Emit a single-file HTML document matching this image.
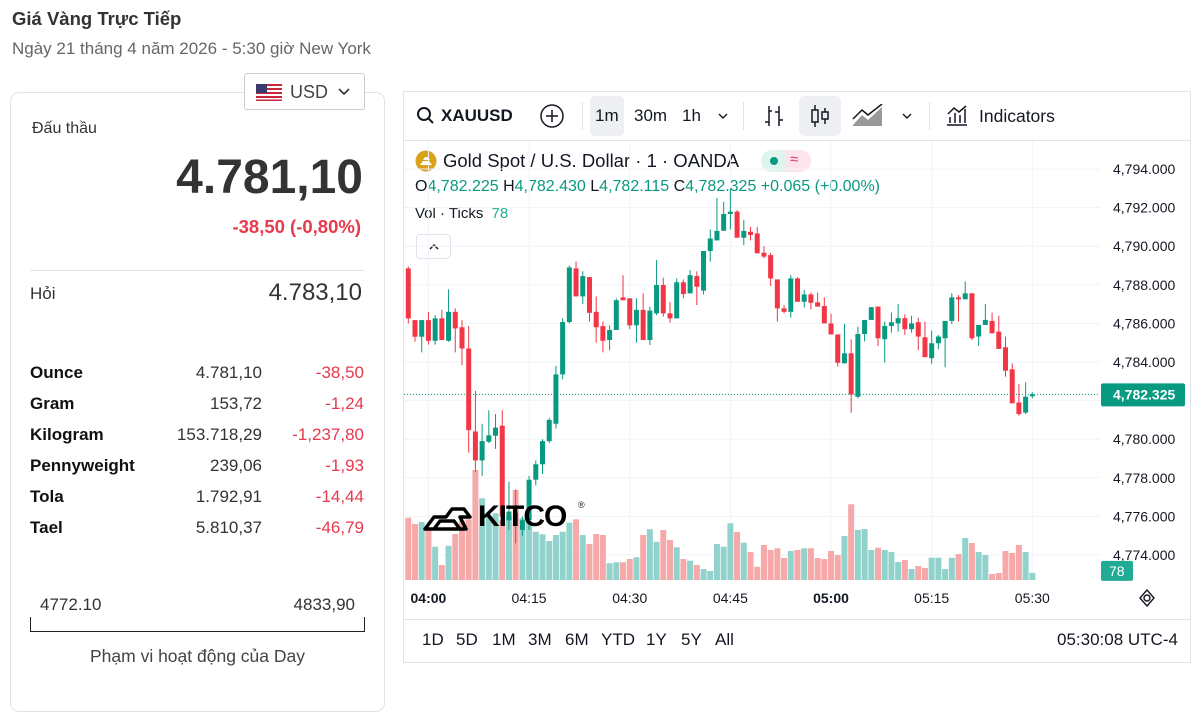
<!DOCTYPE html>
<html><head><meta charset="utf-8">
<style>
*{margin:0;padding:0;box-sizing:border-box}
body{width:1197px;height:677px;overflow:hidden;background:#fff;font-family:"Liberation Sans",sans-serif;color:#222;position:relative}
.a{position:absolute;white-space:nowrap}
.r{text-align:right}
.row{position:absolute;left:30px;width:334px;height:20px;font-size:17px}
.row b{position:absolute;left:0;color:#111}
.row .v{position:absolute;right:102px;color:#333}
.row .c{position:absolute;right:0;color:#e8394d}
.tb{font-size:17px;color:#131722}
</style></head><body>
<div class="a" style="left:12px;top:8px;font-size:18.5px;font-weight:bold;color:#333">Giá Vàng Trực Tiếp</div>
<div class="a" style="left:12px;top:39px;font-size:17px;color:#666">Ngày 21 tháng 4 năm 2026 - 5:30 giờ New York</div>

<div class="a" style="left:10px;top:92px;width:375px;height:620px;border:1px solid #e3e3e3;border-radius:9px"></div>
<div class="a" style="left:244px;top:73px;width:121px;height:37px;border:1px solid #ccc;border-radius:3px;background:#fff">
 <svg class="a" style="left:11px;top:10px" width="26" height="17"><rect width="26" height="17" fill="#fff"/><g fill="#c8283c"><rect y="0" width="26" height="2"/><rect y="4" width="26" height="2"/><rect y="8" width="26" height="2"/><rect y="12" width="26" height="2"/><rect y="15.5" width="26" height="1.5"/></g><rect width="11" height="9" fill="#3c3b6e"/></svg>
 <span class="a" style="left:45px;top:8px;font-size:18px;color:#444">USD</span>
 <svg class="a" style="left:93px;top:14px" width="12" height="8"><path d="M1 1 L6 6 L11 1" stroke="#333" stroke-width="1.6" fill="none"/></svg>
</div>
<div class="a" style="left:32px;top:120px;font-size:16px;color:#333">Đấu thầu</div>
<div class="a r" style="right:834px;top:150px;font-size:48px;font-weight:bold;color:#333">4.781,10</div>
<div class="a r" style="right:836px;top:216px;font-size:18.5px;font-weight:bold;color:#e8394d">-38,50 (-0,80%)</div>
<div class="a" style="left:30px;top:270px;width:334px;height:1px;background:#e3e3e3"></div>
<div class="a" style="left:30px;top:284px;font-size:17px;color:#333">Hỏi</div>
<div class="a r" style="right:835px;top:279px;font-size:24px;color:#333">4.783,10</div>

<div class="row" style="top:363px"><b>Ounce</b><span class="v">4.781,10</span><span class="c">-38,50</span></div>
<div class="row" style="top:394px"><b>Gram</b><span class="v">153,72</span><span class="c">-1,24</span></div>
<div class="row" style="top:425px"><b>Kilogram</b><span class="v">153.718,29</span><span class="c">-1,237,80</span></div>
<div class="row" style="top:456px"><b>Pennyweight</b><span class="v">239,06</span><span class="c">-1,93</span></div>
<div class="row" style="top:487px"><b>Tola</b><span class="v">1.792,91</span><span class="c">-14,44</span></div>
<div class="row" style="top:518px"><b>Tael</b><span class="v">5.810,37</span><span class="c">-46,79</span></div>

<div class="a" style="left:40px;top:595px;font-size:17px;color:#333">4772.10</div>
<div class="a r" style="right:842px;top:595px;font-size:17px;color:#333">4833,90</div>
<div class="a" style="left:30px;top:617px;width:335px;height:15px;border:1.5px solid #222;border-top:none"></div>
<div class="a" style="left:30px;width:335px;text-align:center;top:646px;font-size:17.5px;color:#444">Phạm vi hoạt động của Day</div>

<div class="a" style="left:403px;top:91px;width:788px;height:572px;border:1px solid #e0e3eb"></div>
<div class="a" style="left:404px;top:140px;width:786px;height:1px;background:#e0e3eb"></div>
<svg class="a" style="left:416px;top:106px" width="20" height="20"><circle cx="8" cy="8" r="6" stroke="#131722" stroke-width="2" fill="none"/><path d="M12.5 12.5 L17 17" stroke="#131722" stroke-width="2"/></svg>
<div class="a tb" style="left:441px;top:106px;font-weight:bold">XAUUSD</div>
<svg class="a" style="left:539px;top:103px" width="26" height="26"><circle cx="13" cy="13" r="11" stroke="#131722" stroke-width="1.5" fill="none"/><path d="M13 7V19M7 13H19" stroke="#131722" stroke-width="1.5"/></svg>
<div class="a" style="left:582px;top:102px;width:1px;height:28px;background:#e0e3eb"></div>
<div class="a" style="left:590px;top:96px;width:34px;height:40px;background:#eeeff2;border-radius:5px"></div>
<div class="a tb" style="left:595px;top:106px">1m</div>
<div class="a tb" style="left:634px;top:106px">30m</div>
<div class="a tb" style="left:682px;top:106px">1h</div>
<svg class="a" style="left:717px;top:112px" width="12" height="8"><path d="M2 2L6 6L10 2" stroke="#131722" stroke-width="1.4" fill="none"/></svg>
<div class="a" style="left:743px;top:102px;width:1px;height:28px;background:#e0e3eb"></div>
<svg class="a" style="left:762px;top:103px" width="24" height="26"><path d="M7 3V23M3 19H7M7 8H10M17 3V23M13 9H17M17 17H21" stroke="#131722" stroke-width="1.5" fill="none"/></svg>
<div class="a" style="left:799px;top:96px;width:42px;height:40px;background:#eeeff2;border-radius:5px"></div>
<svg class="a" style="left:808px;top:103px" width="24" height="26"><path d="M7 2V24M17 5V21" stroke="#131722" stroke-width="1.5"/><rect x="4" y="7" width="6" height="12" fill="#eeeff2" stroke="#131722" stroke-width="1.5"/><rect x="14" y="9" width="6" height="7" fill="#eeeff2" stroke="#131722" stroke-width="1.5"/></svg>
<svg class="a" style="left:852px;top:104px" width="32" height="24"><path d="M1 21L10 11L16 16L30 3V22H1Z" fill="#999"/><path d="M1 15L10 6L16 11L30 0" stroke="#131722" stroke-width="1.5" fill="none"/></svg>
<svg class="a" style="left:901px;top:112px" width="12" height="8"><path d="M2 2L6 6L10 2" stroke="#131722" stroke-width="1.4" fill="none"/></svg>
<div class="a" style="left:929px;top:102px;width:1px;height:28px;background:#e0e3eb"></div>
<svg class="a" style="left:945px;top:103px" width="24" height="24"><path d="M2 22H22M5 20V14M10 20V10M15 20V12M20 20V6M3 11L9 5L14 9L21 3" stroke="#131722" stroke-width="1.5" fill="none"/></svg>
<div class="a tb" style="left:979px;top:106px;font-size:17.5px">Indicators</div>

<svg class="a" style="left:415px;top:150px" width="22" height="22"><circle cx="11" cy="11" r="10.5" fill="#d9a21b"/><path d="M5 15L8 11H14L17 15Z M8 10L10 7H13L15 10Z" fill="#fff"/></svg>
<div class="a" style="left:443px;top:150px;font-size:18.5px;color:#131722">Gold Spot / U.S. Dollar · 1 · OANDA</div>
<div class="a" style="left:761px;top:150px;width:50px;height:22px;border-radius:11px;background:linear-gradient(90deg,#dff3ef 50%,#fde4ea 50%)"><span class="a" style="left:9px;top:7px;width:8px;height:8px;border-radius:4px;background:#089981"></span><span class="a" style="left:29px;top:1px;font-size:15px;color:#d6336c">≈</span></div>
<div class="a" style="left:415px;top:178px;font-size:16px;color:#089981"><span style="color:#131722">O</span>4,782.225 <span style="color:#131722">H</span>4,782.430 <span style="color:#131722">L</span>4,782.115 <span style="color:#131722">C</span>4,782.325 +0.065 (+0.00%)</div>
<div class="a" style="left:415px;top:205px;font-size:15px;color:#131722">Vol · Ticks <span style="color:#22ab94;margin-left:4px">78</span></div>
<div class="a" style="left:416px;top:234px;width:35px;height:25px;border:1px solid #e0e3eb;border-radius:4px;background:#fff"><svg class="a" style="left:11px;top:8px" width="12" height="8"><path d="M2 6L6 2L10 6" stroke="#131722" stroke-width="1.5" fill="none"/></svg></div>

<svg id="chart" class="a" style="left:0;top:0" width="1197" height="677"></svg>

<div class="a" style="left:422px;top:500px">
<svg class="a" style="left:0;top:5px" width="56" height="26"><path d="M3 24L12 12H24L30 4H42L48 12H38L44 24Z M12 24L18 16H32L38 24Z" fill="none" stroke="#000" stroke-width="3.5" stroke-linejoin="round"/></svg>
<span class="a" style="left:56px;top:0;font-size:30px;font-weight:bold;color:#000;letter-spacing:-1px">KITCO</span><span class="a" style="left:156px;top:0;font-size:9px">®</span></div>

<div class="a" style="left:404px;top:619px;width:786px;height:1px;background:#e0e3eb"></div>
<div class="a tb" style="left:422px;top:630px">1D</div>
<div class="a tb" style="left:456px;top:630px">5D</div>
<div class="a tb" style="left:492px;top:630px">1M</div>
<div class="a tb" style="left:528px;top:630px">3M</div>
<div class="a tb" style="left:565px;top:630px">6M</div>
<div class="a tb" style="left:601px;top:630px">YTD</div>
<div class="a tb" style="left:646px;top:630px">1Y</div>
<div class="a tb" style="left:681px;top:630px">5Y</div>
<div class="a tb" style="left:715px;top:630px">All</div>
<div class="a tb" style="left:1057px;top:630px">05:30:08 UTC-4</div>
<svg class="a" style="left:1138px;top:589px" width="18" height="18"><path d="M9 1L16 9L9 17L2 9Z" fill="none" stroke="#131722" stroke-width="1.4" stroke-linejoin="round"/><circle cx="9" cy="9" r="3" fill="none" stroke="#131722" stroke-width="1.4"/></svg>

<script>
const opens=[4788.85,4786.17,4785.31,4786.17,4785.1,4786.26,4785.1,4786.6,4785.8,4784.7,4780.4,4778.9,4779.87,4780.18,4780.7,4775.8,4776.2,4775.3,4775.8,4777.9,4778.7,4779.9,4780.8,4783.36,4786.07,4788.85,4787.4,4788.4,4786.6,4785.86,4785.14,4785.66,4787.35,4787.3,4785.9,4786.7,4785.14,4786.52,4787.99,4786.52,4786.26,4788.13,4787.56,4788.45,4787.7,4789.75,4790.3,4790.8,4791.67,4791.79,4790.44,4790.75,4790.66,4789.66,4789.54,4788.28,4786.78,4786.6,4788.33,4787.12,4787.5,4787.09,4786.9,4786.0,4785.43,4783.93,4784.45,4782.2,4785.45,4786.18,4786.87,4785.18,4785.87,4786.0,4786.27,4785.7,4786.06,4785.28,4784.2,4784.97,4785.23,4786.13,4787.35,4787.25,4787.56,4785.32,4785.92,4786.13,4785.57,4784.76,4783.62,4781.9,4781.38,4782.225];
const closes=[4786.26,4785.31,4786.17,4785.1,4786.26,4785.14,4786.6,4785.74,4784.7,4780.47,4778.9,4779.9,4780.2,4780.6,4776.0,4776.25,4775.5,4775.8,4777.9,4778.7,4779.9,4781.0,4783.36,4786.07,4788.9,4787.4,4788.45,4786.55,4785.8,4785.1,4785.66,4787.2,4787.2,4785.9,4786.7,4785.14,4786.66,4787.99,4786.52,4786.26,4788.13,4787.52,4788.5,4787.9,4789.75,4790.4,4790.79,4791.67,4791.79,4790.44,4790.79,4790.58,4789.63,4789.46,4788.33,4786.78,4786.6,4788.33,4787.12,4787.5,4787.07,4786.87,4786.0,4785.43,4783.96,4784.45,4782.32,4785.45,4786.18,4786.84,4785.23,4785.87,4786.06,4786.27,4785.7,4786.0,4785.32,4784.25,4784.97,4785.32,4786.13,4787.35,4787.25,4787.56,4785.23,4785.92,4786.18,4785.49,4784.68,4783.55,4781.86,4781.3,4782.2,4782.325];
const highs=[4788.94,4786.17,4786.17,4786.6,4786.43,4786.7,4787.76,4786.78,4786.17,4785.86,4782.5,4780.8,4781.5,4781.3,4781.5,4777.8,4777.4,4776.0,4778.1,4778.9,4780.0,4781.1,4783.8,4786.26,4789.0,4789.2,4788.7,4788.4,4787.4,4786.1,4785.9,4787.3,4788.5,4787.3,4787.3,4787.56,4786.87,4789.28,4788.37,4787.12,4788.33,4788.28,4788.76,4788.7,4789.75,4790.87,4792.5,4792.3,4793.0,4791.87,4791.36,4791.0,4791.0,4790.0,4789.66,4788.28,4786.95,4788.5,4788.4,4787.73,4787.6,4787.6,4787.35,4786.5,4785.43,4785.97,4785.17,4785.83,4785.45,4786.84,4786.87,4786.1,4786.56,4787.0,4786.47,4786.4,4786.3,4786.1,4785.63,4785.4,4785.23,4787.56,4787.47,4788.17,4787.56,4785.32,4787.0,4786.56,4786.4,4785.32,4783.93,4782.85,4782.95,4782.43];
const lows=[4786.0,4785.05,4784.5,4784.9,4784.9,4785.14,4785.05,4784.5,4783.84,4779.3,4778.3,4778.1,4779.8,4779.5,4775.5,4775.3,4774.6,4775.0,4775.3,4777.6,4778.2,4779.8,4780.55,4783.1,4786.0,4787.4,4787.0,4786.1,4785.0,4784.5,4784.6,4785.66,4787.2,4785.7,4785.0,4785.14,4784.88,4786.43,4786.35,4786.04,4786.26,4787.3,4787.56,4786.95,4787.5,4789.2,4790.3,4790.8,4790.87,4790.44,4790.06,4790.3,4789.63,4789.37,4787.94,4786.09,4786.52,4786.3,4787.12,4786.83,4786.73,4786.87,4786.0,4785.43,4783.76,4783.93,4781.37,4782.12,4785.06,4786.18,4784.83,4783.97,4785.52,4785.58,4785.4,4785.52,4784.62,4784.25,4783.9,4784.66,4783.73,4785.97,4786.1,4787.25,4785.14,4784.83,4785.92,4785.49,4784.68,4783.24,4781.86,4781.22,4781.3,4782.115];
const volumes=[685,616,638,569,366,165,377,506,652,668,1210,899,693,734,660,696,990,679,641,531,503,429,495,531,630,668,495,396,506,495,184,195,195,231,250,495,558,421,550,440,360,231,212,165,121,99,396,366,624,528,410,308,146,385,330,349,242,319,330,349,349,242,231,319,275,484,833,550,561,330,355,330,308,198,220,121,154,132,245,245,121,245,286,462,407,308,275,66,77,319,297,385,308,78];
const priceTicks=[4794,4792,4790,4788,4786,4784,4780,4778,4776,4774];
const timeLabels=['04:00','04:15','04:30','04:45','05:00','05:15','05:30'];
const timeIndex=[3,18,33,48,63,78,93];
const boldTimes=['04:00','05:00'];
const lastPrice=4782.325;
const lastVolume=78;

const svg=document.getElementById('chart');
const NS='http://www.w3.org/2000/svg';
function y(p){return 169+(4794-p)*19.3;}
function x(i){return 408.3+i*6.71;}
function vy(v){return 580-v/11;}
function mk(tag,attrs,parent){const e=document.createElementNS(NS,tag);for(const k in attrs)e.setAttribute(k,attrs[k]);(parent||svg).appendChild(e);return e;}
const clip=mk('clipPath',{id:'pc'});mk('rect',{x:404,y:141,width:696,height:439},clip);
const grid=mk('g',{});


priceTicks.concat([4782]).forEach(p=>{mk('line',{x1:404,x2:1100,y1:y(p),y2:y(p),stroke:'#f0f3fa','stroke-width':1},grid);});
timeIndex.forEach(i=>{mk('line',{x1:x(i),x2:x(i),y1:141,y2:580,stroke:'#f0f3fa','stroke-width':1},grid);});
const vg=mk('g',{'clip-path':'url(#pc)'});


volumes.forEach((v,i)=>{const up=closes[i]>=opens[i];const r=mk('rect',{x:x(i)-3,y:vy(v),width:6,height:580-vy(v),fill:up?'#92d2cc':'#f7a9a9'},vg);

});
const cg=mk('g',{'clip-path':'url(#pc)'});


opens.forEach((o,i)=>{const c=closes[i];const col=c>=o?'#089981':'#f23645';const g=mk('g',{},cg);


mk('line',{x1:x(i),x2:x(i),y1:y(highs[i]),y2:y(lows[i]),stroke:col,'stroke-width':1},g);
const t=Math.min(y(o),y(c));mk('rect',{x:x(i)-2.5,y:t,width:5,height:Math.max(1,Math.abs(y(o)-y(c))),fill:col},g);});
const pl=mk('line',{x1:404,x2:1100,y1:y(lastPrice),y2:y(lastPrice),stroke:'#089981','stroke-width':1,'stroke-dasharray':'1 2'});


priceTicks.forEach(p=>{const t=mk('text',{x:1113,y:y(p)+5,'font-size':14,fill:'#131722','font-family':'Liberation Sans'});t.textContent=p.toLocaleString('en-US',{minimumFractionDigits:3});

});
const lb=mk('rect',{x:1101,y:y(lastPrice)-11,width:84,height:23,rx:2,fill:'#089981'});


const lt=mk('text',{x:1113,y:y(lastPrice)+5,'font-size':14,fill:'#fff','font-family':'Liberation Sans','font-weight':'bold'});lt.textContent=lastPrice.toLocaleString('en-US',{minimumFractionDigits:3});


const vb=mk('rect',{x:1101,y:vy(lastVolume)-12,width:32,height:20,rx:2,fill:'#22ab94'});


const vt=mk('text',{x:1109,y:vy(lastVolume)+3,'font-size':14,fill:'#fff','font-family':'Liberation Sans'});vt.textContent=String(lastVolume);


timeLabels.forEach((l,k)=>{const t=mk('text',{x:x(timeIndex[k]),y:603,'font-size':14,fill:'#131722','text-anchor':'middle','font-family':'Liberation Sans','font-weight':boldTimes.includes(l)?'bold':'normal'});t.textContent=l;

});
</script>
</body></html>
